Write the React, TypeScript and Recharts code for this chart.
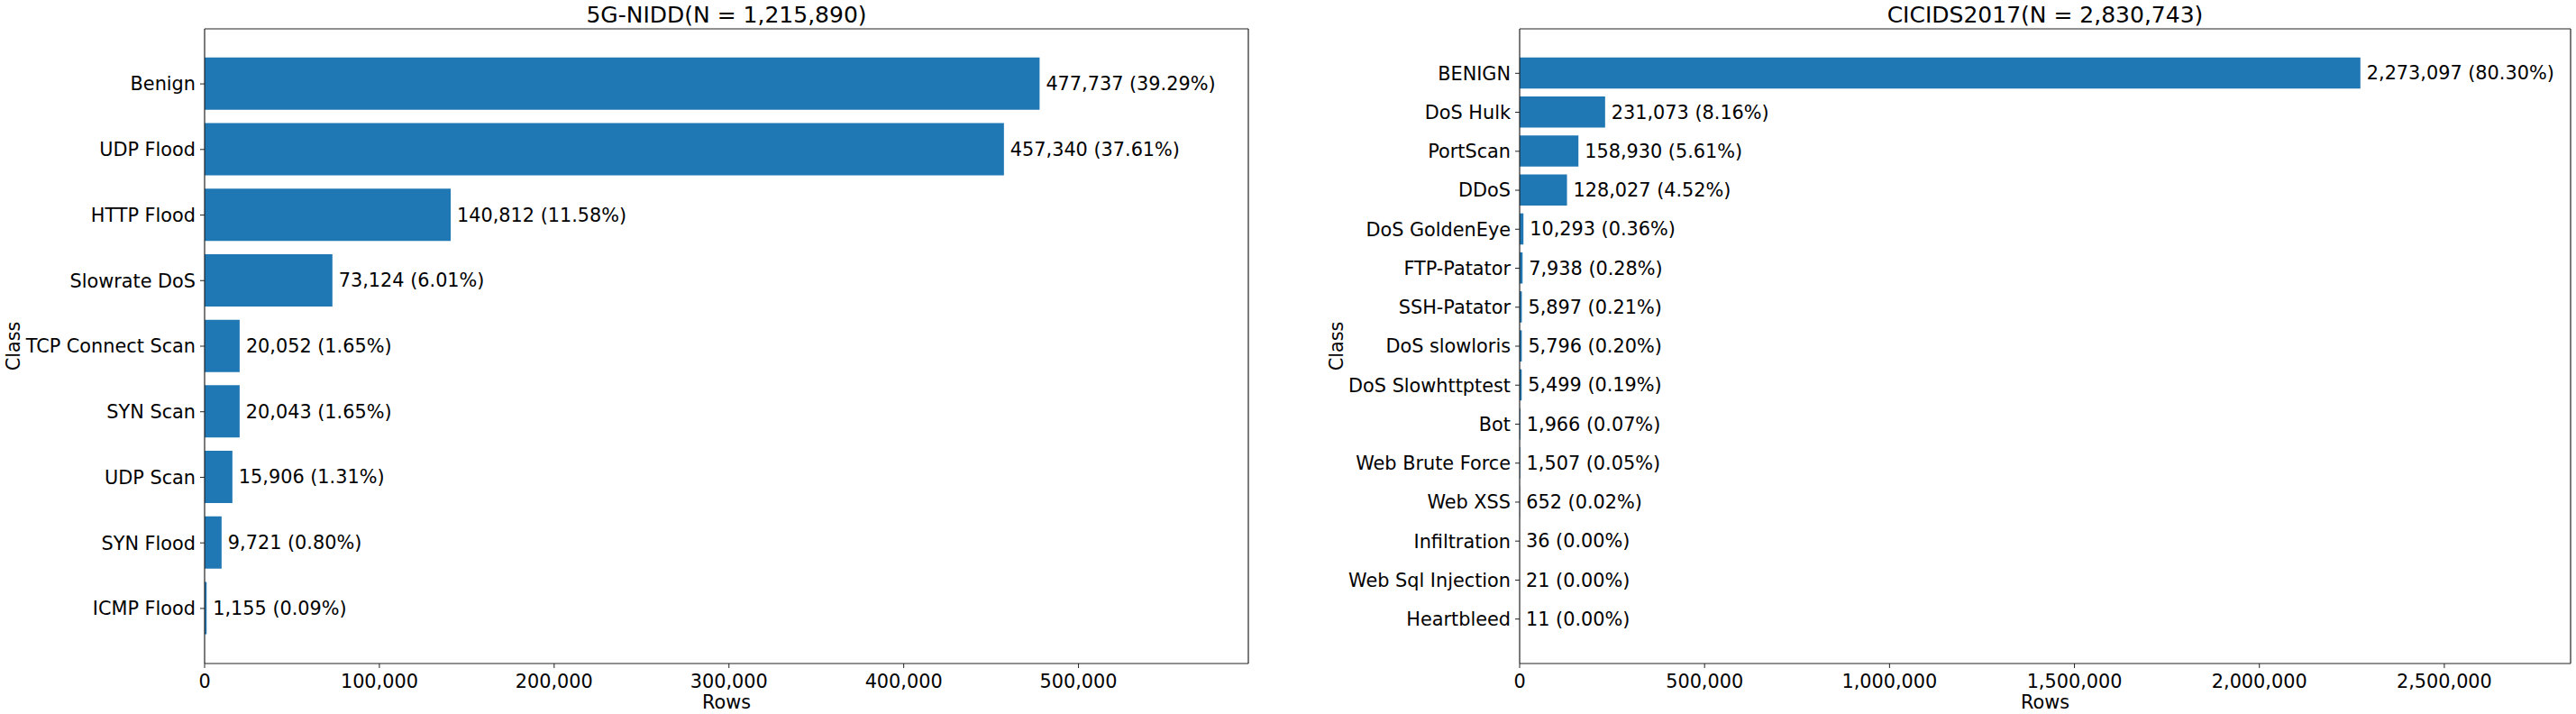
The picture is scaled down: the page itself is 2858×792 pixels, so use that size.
import React from "react";
import { BarChart, Bar, XAxis, YAxis, LabelList, Label } from "recharts";

// 5G-NIDD class counts
const niddClasses = [
  "Benign",
  "UDP Flood",
  "HTTP Flood",
  "Slowrate DoS",
  "TCP Connect Scan",
  "SYN Scan",
  "UDP Scan",
  "SYN Flood",
  "ICMP Flood",
];
const niddRows = [477737, 457340, 140812, 73124, 20052, 20043, 15906, 9721, 1155];
const niddTicks = [0, 100000, 200000, 300000, 400000, 500000];

// CICIDS2017 class counts
const cicClasses = [
  "BENIGN",
  "DoS Hulk",
  "PortScan",
  "DDoS",
  "DoS GoldenEye",
  "FTP-Patator",
  "SSH-Patator",
  "DoS slowloris",
  "DoS Slowhttptest",
  "Bot",
  "Web Brute Force",
  "Web XSS",
  "Infiltration",
  "Web Sql Injection",
  "Heartbleed",
];
const cicRows = [2273097, 231073, 158930, 128027, 10293, 7938, 5897, 5796, 5499, 1966, 1507, 652, 36, 21, 11];
const cicTicks = [0, 500000, 1000000, 1500000, 2000000, 2500000];

const BLUE = "#1f77b4";
const INK = "#000";
const FONT = "'DejaVu Sans', sans-serif";
const FS = 20.8;

const fmt = (v: number) => v.toLocaleString("en-US");

function buildRows(names: string[], rows: number[]) {
  const total = rows.reduce((a, b) => a + b, 0);
  return {
    total,
    data: names.map((name, i) => ({
      name,
      rows: rows[i],
      label: `${fmt(rows[i])} (${((rows[i] / total) * 100).toFixed(2)}%)`,
    })),
  };
}

const classLabel = (baseX: number) => (props: any) => {
  const vb = props.viewBox || {};
  const x = (vb.x || 0) + baseX;
  const y = (vb.y || 0) + (vb.height || 0) / 2;
  return (
    <text
      x={x}
      y={y}
      transform={`rotate(-90 ${x} ${y})`}
      textAnchor="middle"
      fontSize={FS}
      fill={INK}
      fontFamily={FONT}
    >
      Class
    </text>
  );
};

const titleLabel = (title: string) => (props: any) => {
  const vb = props.viewBox || {};
  const x = (vb.x || 0) + (vb.width || 0) / 2;
  const y = (vb.y || 0) - 6;
  return (
    <text x={x} y={y} textAnchor="middle" fontSize={25} fill={INK} fontFamily={FONT}>
      {title}
    </text>
  );
};

type PanelProps = {
  title: string;
  names: string[];
  rows: number[];
  ticks: number[];
  left: number;
  width: number;
  yAxisWidth: number;
  rightMargin: number;
  bandPad: number;
  barSize: number;
  classX: number;
};

function Panel(p: PanelProps) {
  const { total, data } = buildRows(p.names, p.rows);
  const maxX = Math.max(...p.rows) * 1.25;
  const axisLine = { stroke: "#222", strokeWidth: 1.2 };
  const tickStyle = { fill: INK, fontSize: FS, fontFamily: FONT };

  return (
    <div style={{ position: "absolute", left: p.left, top: 0 }}>
      <BarChart
        width={p.width}
        height={792}
        data={data}
        layout="vertical"
        margin={{ top: 31, right: p.rightMargin - 1, bottom: 0, left: 0 }}
      >
        <XAxis
          type="number"
          dataKey="rows"
          domain={[0, maxX]}
          ticks={p.ticks}
          allowDataOverflow
          tickFormatter={fmt}
          height={56}
          tickSize={5}
          tickMargin={7}
          axisLine={axisLine}
          tickLine={{ stroke: "#222" }}
          tick={tickStyle}
          interval={0}
        >
          <Label value="Rows" position="insideBottom" offset={6} fontSize={FS} fill={INK} fontFamily={FONT} />
        </XAxis>
        <XAxis
          xAxisId="top"
          orientation="top"
          type="number"
          domain={[0, maxX]}
          allowDataOverflow
          height={1}
          tick={false}
          tickLine={false}
          axisLine={axisLine}
        >
          <Label content={titleLabel(`${p.title}(N = ${fmt(total)})`)} />
        </XAxis>
        <YAxis
          type="category"
          dataKey="name"
          width={p.yAxisWidth}
          padding={{ top: p.bandPad, bottom: p.bandPad }}
          tickSize={5}
          tickMargin={5}
          axisLine={axisLine}
          tickLine={{ stroke: "#222" }}
          tick={tickStyle}
          interval={0}
        >
          <Label content={classLabel(p.classX)} />
        </YAxis>
        <YAxis
          yAxisId="right"
          orientation="right"
          type="category"
          dataKey="name"
          width={1}
          tick={false}
          tickLine={false}
          axisLine={axisLine}
        />
        <Bar dataKey="rows" fill={BLUE} barSize={p.barSize} isAnimationActive={false}>
          <LabelList dataKey="label" position="right" offset={7} fill={INK} fontSize={FS} fontFamily={FONT} />
        </Bar>
      </BarChart>
    </div>
  );
}

export default function App() {
  return (
    <div
      style={{
        position: "absolute",
        left: 0,
        top: 0,
        width: 2858,
        height: 792,
        background: "#fff",
        fontFamily: FONT,
        overflow: "hidden",
      }}
    >
      <Panel
        title="5G-NIDD"
        names={niddClasses}
        rows={niddRows}
        ticks={niddTicks}
        left={0}
        width={1400}
        yAxisWidth={227}
        rightMargin={15}
        bandPad={24.7}
        barSize={58}
        classX={22}
      />
      <Panel
        title="CICIDS2017"
        names={cicClasses}
        rows={cicRows}
        ticks={cicTicks}
        left={1429}
        width={1429}
        yAxisWidth={257}
        rightMargin={6}
        bandPad={27.7}
        barSize={34.6}
        classX={61}
      />
    </div>
  );
}
